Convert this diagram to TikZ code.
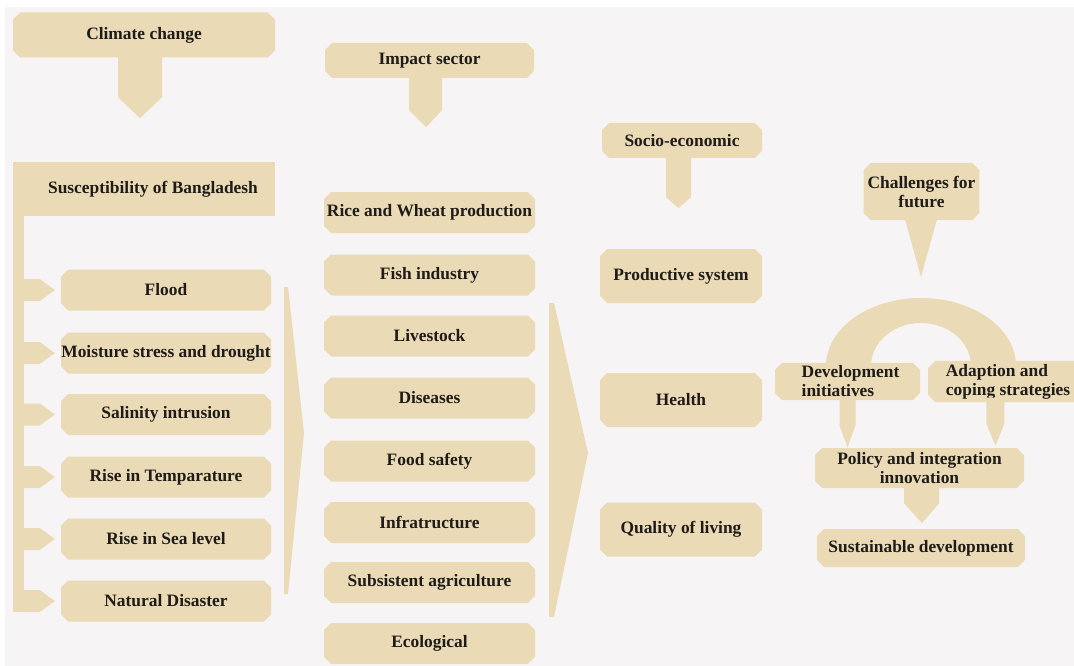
\documentclass[tikz,border=0pt]{standalone}
\usepackage{fontspec}
\setmainfont{Liberation Serif}
\usetikzlibrary{shapes.misc,calc}
\definecolor{boxc}{HTML}{EADBB6}
\definecolor{bgc}{HTML}{F6F4F4}
\definecolor{txtc}{HTML}{1E1B18}
\begin{document}
\begin{tikzpicture}[x=1pt,y=-1pt,
  txt/.style={text=txtc, font=\fontsize{17.4}{19}\selectfont\bfseries, inner sep=0pt},
  box/.style={txt, chamfered rectangle, chamfered rectangle xsep=4pt, fill=boxc, align=center},
  lbox/.style={box, minimum width=210, minimum height=41},
  mbox/.style={box, minimum width=211, minimum height=41},
  rbox/.style={box, minimum width=162, minimum height=54},
  blk/.style={fill=boxc}]
\useasboundingbox (0,0) rectangle (1074,666);
\clip (0,0) rectangle (1074,666);
\fill[white] (0,0) rectangle (1074,666);
\fill[bgc] (5,7) rectangle (1074,666);

% ---------- column 1 ----------
\node[box, minimum width=262, minimum height=45] (cc) at (144,35) {Climate change};
\fill[blk] ($(cc.south)+(-26,-0.5)$) -- ($(cc.south)+(-26,39.5)$) -- ($(cc.south)+(-4,60.5)$)
  -- ($(cc.south)+(18,39.5)$) -- ($(cc.south)+(18,-0.5)$) -- cycle;

\node[txt, rectangle, fill=boxc, minimum width=262, minimum height=54] (sus) at (144,189)
  {\hspace*{18pt}Susceptibility of Bangladesh};
\fill[blk] (sus.south west) rectangle ($(sus.south west)+(11,396)$);

\node[lbox] (flood) at (166,290) {Flood};
\node[lbox] (moist) at (166,353) {\makebox[196pt][c]{Moisture stress and drought}};
\node[lbox] (sal)   at (166,414.5) {Salinity intrusion};
\node[lbox] (temp)  at (166,477) {Rise in Temparature};
\node[lbox] (sea)   at (166,539) {Rise in Sea level};
\node[lbox] (dis)   at (166,601) {Natural Disaster};
\foreach \n in {flood,moist,sal,temp,sea,dis}{
  \fill[blk] ($(\n.west)+(-38,-11)$) -- ($(\n.west)+(-21,-11)$) -- ($(\n.west)+(-6,0)$)
    -- ($(\n.west)+(-21,11)$) -- ($(\n.west)+(-38,11)$) -- cycle;
}

% chevron 1
\fill[blk] (284,287) -- (288,287) -- (304,433) -- (288,594) -- (284,594) -- cycle;

% ---------- column 2 ----------
\node[box, minimum width=209, minimum height=35] (imp) at (429.5,60.5) {Impact sector};
\fill[blk] ($(imp.south)+(-20.5,-0.5)$) -- ($(imp.south)+(-20.5,32)$) -- ($(imp.south)+(-3.5,49)$)
  -- ($(imp.south)+(12.5,32)$) -- ($(imp.south)+(12.5,-0.5)$) -- cycle;

\node[mbox] (rice)  at (429.5,212.5) {\makebox[200pt][c]{Rice and Wheat production}};
\node[mbox] (fish)  at (429.5,275) {Fish industry};
\node[mbox] (live)  at (429.5,336) {Livestock};
\node[mbox] (dise)  at (429.5,398) {Diseases};
\node[mbox] (food)  at (429.5,461) {Food safety};
\node[mbox] (infra) at (429.5,522.5) {Infratructure};
\node[mbox] (subs)  at (429.5,582.5) {Subsistent agriculture};
\node[mbox] (eco)   at (429.5,643.5) {Ecological};

% chevron 2
\fill[blk] (549,303) -- (554,303) -- (588,453) -- (554,617) -- (549,617) -- cycle;

% ---------- column 3 ----------
\node[box, minimum width=160, minimum height=35] (soc) at (682,140.5) {Socio-economic};
\fill[blk] ($(soc.south)+(-16,-0.5)$) -- ($(soc.south)+(-16,39)$) -- ($(soc.south)+(-3.5,50)$)
  -- ($(soc.south)+(9,39)$) -- ($(soc.south)+(9,-0.5)$) -- cycle;

\node[rbox] (prod)   at (681,276) {Productive system};
\node[rbox] (health) at (681,400) {Health};
\node[rbox] (qual)   at (681,529.5) {Quality of living};

% ---------- column 4 ----------
\node[box, minimum width=103, minimum height=57] (chal) at (921.5,191.5) {Challenges for\\future};
\fill[blk] ($(chal.south)+(-16.5,-1)$) -- ($(chal.south)+(-0.5,57)$) -- ($(chal.south)+(15.5,-1)$) -- cycle;

% arch
\fill[blk] (826,366) arc[start angle=180, end angle=360, x radius=95, y radius=68]
  -- (971,366) arc[start angle=360, end angle=180, x radius=50, y radius=43] -- cycle;

\node[box, align=left, minimum width=145, minimum height=33] (dev) at (847.5,381.5) {\hspace*{6pt}Development\\\hspace*{6pt}initiatives};
\node[box, align=left, minimum width=160, minimum height=33] (adapt) at (1008,381.5) {Adaption and\\coping strategies};

\node[box, minimum width=209, minimum height=40] (pol) at (919.5,468) {Policy and integration\\innovation};
\node[box, minimum width=208, minimum height=38] (sust) at (921,548) {Sustainable development};

\fill[blk] ($(dev.south)+(-8,-1)$) -- ($(dev.south)+(-8,25)$) -- ($(dev.south)+(0,47)$)
  -- ($(dev.south)+(8,25)$) -- ($(dev.south)+(8,-1)$) -- cycle;
\fill[blk] ($(adapt.south west)+(55,-1)$) -- ($(adapt.south west)+(55,25)$) -- ($(adapt.south west)+(64,47)$)
  -- ($(adapt.south west)+(73,25)$) -- ($(adapt.south west)+(73,-1)$) -- cycle;
\fill[blk] ($(pol.south)+(-15.5,-1)$) -- ($(pol.south)+(-15.5,15)$) -- ($(pol.south)+(2.5,35)$)
  -- ($(pol.south)+(19.5,15)$) -- ($(pol.south)+(19.5,-1)$) -- cycle;
\end{tikzpicture}
\end{document}
